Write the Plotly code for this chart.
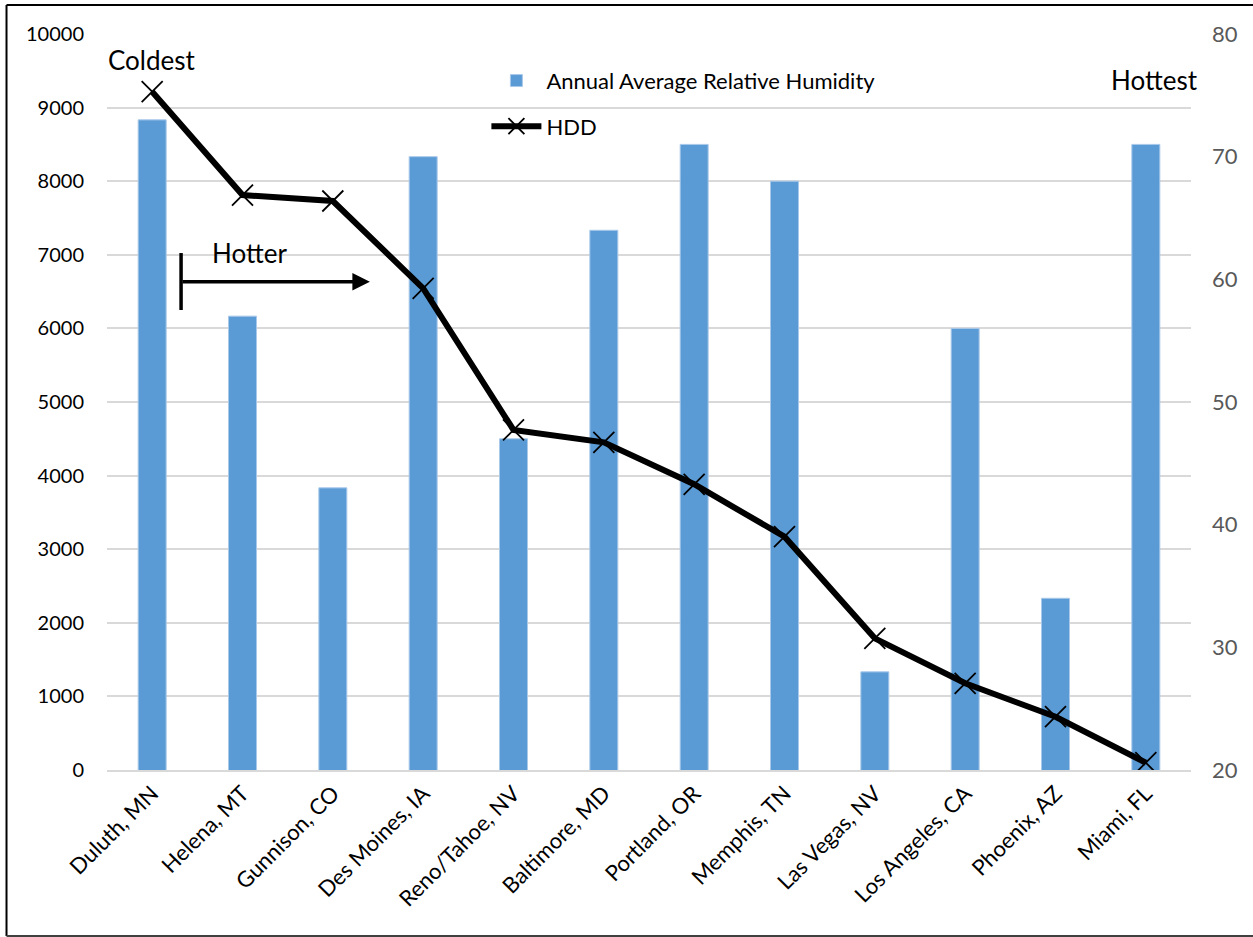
# Humidity vs heating degree days, coldest to hottest city
import plotly.graph_objects as go

# ------------------------------------------------------------
# Data
# ------------------------------------------------------------
cities = [
    "Duluth, MN", "Helena, MT", "Gunnison, CO", "Des Moines, IA",
    "Reno/Tahoe, NV", "Baltimore, MD", "Portland, OR", "Memphis, TN",
    "Las Vegas, NV", "Los Angeles, CA", "Phoenix, AZ", "Miami, FL",
]
humidity = [73, 57, 43, 70, 47, 64, 71, 68, 28, 56, 34, 71]
hdd = [9216, 7812, 7731, 6545, 4620, 4452, 3882, 3170, 1789, 1178, 724, 99]

hdd_ticks = [0, 1000, 2000, 3000, 4000, 5000, 6000, 7000, 8000, 9000, 10000]
rh_ticks = [20, 30, 40, 50, 60, 70, 80]

FONT = "Lato"
BAR_BLUE = "#5B9BD5"

fig = go.Figure()

# bars sit on the primary axis so the HDD line draws above them
fig.add_trace(
    go.Bar(
        x=cities,
        y=humidity,
        name="Annual Average Relative Humidity",
        marker=dict(color=BAR_BLUE, line=dict(color="#A9C9EA", width=1)),
        width=0.31,
        yaxis="y",
        legendgroup="rh",
    )
)
fig.add_trace(
    go.Scatter(
        x=cities,
        y=hdd,
        name="HDD",
        mode="lines+markers",
        line=dict(color="black", width=6),
        marker=dict(symbol="x-thin", size=21, color="black",
                    line=dict(color="black", width=1.8)),
        yaxis="y2",
        legendgroup="hdd",
    )
)

fig.update_layout(
    width=1253,
    height=937,
    margin=dict(l=107, r=62, t=34, b=167, autoexpand=False),
    paper_bgcolor="white",
    plot_bgcolor="white",
    font=dict(family=FONT, size=21, color="black"),
    xaxis=dict(
        type="category",
        range=[-0.5, len(cities) - 0.5],
        tickangle=-45,
        tickfont=dict(size=22, color="black"),
        showgrid=False,
        showline=True,
        linecolor="#D9D9D9",
        linewidth=2,
        ticks="",
        automargin=False,
    ),
    yaxis=dict(
        side="right",
        range=[20, 80],
        tickvals=rh_ticks,
        tickfont=dict(size=22, color="#595959"),
        showgrid=False,
        zeroline=False,
        ticks="",
        ticklabelstandoff=20,
        automargin=False,
    ),
    yaxis2=dict(
        overlaying="y",
        side="left",
        range=[0, 10000],
        tickvals=hdd_ticks,
        ticktext=[str(v) for v in hdd_ticks],
        tickfont=dict(size=20, color="black"),
        showgrid=True,
        gridcolor="#D9D9D9",
        gridwidth=2,
        zeroline=False,
        ticks="",
        ticklabelstandoff=22,
        automargin=False,
    ),
    legend=dict(
        x=0.350,
        y=0.965,
        xanchor="left",
        yanchor="top",
        bgcolor="rgba(0,0,0,0)",
        font=dict(size=22),
        traceorder="grouped",
        tracegroupgap=14,
        itemwidth=50,
    ),
    showlegend=True,
)

# ------------------------------------------------------------
# Annotations
# ------------------------------------------------------------
fig.add_annotation(x=0, y=9650, xref="x", yref="y2", text="Coldest",
                   showarrow=False, font=dict(size=26))
fig.add_annotation(x=11.1, y=9375, xref="x", yref="y2", text="Hottest",
                   showarrow=False, font=dict(size=26))
fig.add_annotation(x=1.08, y=7030, xref="x", yref="y2", text="Hotter",
                   showarrow=False, font=dict(size=26))
fig.add_annotation(
    x=2.41, y=6634, ax=0.32, ay=6634,
    xref="x", yref="y2", axref="x", ayref="y2",
    text="", showarrow=True, arrowhead=2, arrowsize=1,
    arrowwidth=3.5, arrowcolor="black",
)
fig.add_shape(type="line", x0=0.32, x1=0.32, y0=6250, y1=7024,
              xref="x", yref="y2", line=dict(color="black", width=3.5))

# outer frame (top, left, bottom)
fig.add_shape(type="line", xref="paper", yref="paper",
              x0=-0.0927, x1=1.06, y0=1.0394, y1=1.0394,
              line=dict(color="black", width=2))
fig.add_shape(type="line", xref="paper", yref="paper",
              x0=-0.0927, x1=-0.0927, y0=1.0394, y1=-0.2255,
              line=dict(color="black", width=2))
fig.add_shape(type="line", xref="paper", yref="paper",
              x0=-0.0927, x1=1.06, y0=-0.2255, y1=-0.2255,
              line=dict(color="#404040", width=2))

# drop the default 8px page margin so the figure fills the window
fig.write_html(
    "out.html",
    config={"displayModeBar": False},
    post_script="document.body.style.margin='0';",
)
